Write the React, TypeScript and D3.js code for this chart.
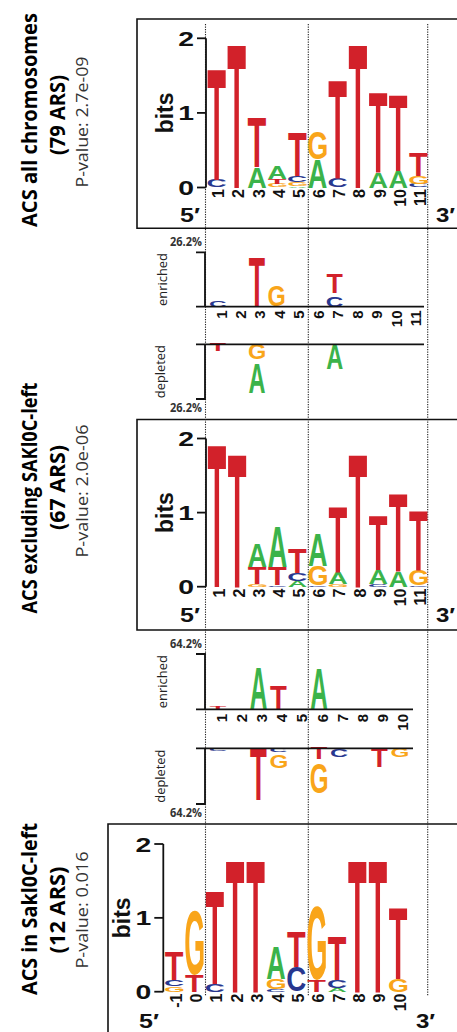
import React, { useMemo } from 'react';
import * as d3 from 'd3';

type Cell = [string, number];
type Column = Cell[];

const LETTER_COLORS: Record<string, string> = { A: '#3bb34a', C: '#28378f', G: '#f9a51a', T: '#d2212a' };

const positions11 = ['1', '2', '3', '4', '5', '6', '7', '8', '9', '10', '11'];
const positions10 = ['1', '2', '3', '4', '5', '6', '7', '8', '9', '10'];
const positionsSak = ['-1', '0', '1', '2', '3', '4', '5', '6', '7', '8', '9', '10'];

// Panel 1: ACS all chromosomes (bits)
const allChrStacks: Column[] = [
  [['C', 0.10], ['T', 1.50]],
  [['T', 1.93]],
  [['A', 0.27], ['T', 0.66]],
  [['G', 0.05], ['T', 0.07], ['A', 0.17]],
  [['A', 0.02], ['G', 0.05], ['C', 0.08], ['T', 0.59]],
  [['A', 0.38], ['G', 0.37]],
  [['C', 0.13], ['T', 1.33]],
  [['T', 1.93]],
  [['A', 0.21], ['T', 1.08]],
  [['A', 0.22], ['T', 1.02]],
  [['C', 0.05], ['G', 0.10], ['T', 0.32]],
];
const allChrTitle = ['ACS all chromosomes', '(79 ARS)', 'P-value: 2.7e-09'];

// Panel 2: enriched / depleted (percent)
const diffAMax = 26.2;
const diffAEnriched: Column[] = [
  [['C', 3.2]], [], [['T', 23.7]], [['G', 9.8]], [], [], [['C', 5.3], ['T', 9.1]], [], [], [], [],
];
const diffADepleted: Column[] = [
  [['T', 3.4]], [], [['G', 7.3], ['A', 14.4]], [], [], [], [['A', 12.0]], [], [], [], [],
];

// Panel 3: ACS excluding SAKl0C-left (bits)
const exclStacks: Column[] = [
  [['T', 1.93]],
  [['T', 1.81]],
  [['G', 0.04], ['T', 0.22], ['A', 0.32]],
  [['C', 0.02], ['T', 0.25], ['A', 0.54]],
  [['A', 0.08], ['C', 0.11], ['T', 0.33]],
  [['C', 0.02], ['G', 0.26], ['A', 0.44]],
  [['G', 0.03], ['A', 0.15], ['T', 0.89]],
  [['T', 1.81]],
  [['C', 0.03], ['A', 0.19], ['T', 0.73]],
  [['A', 0.21], ['T', 1.05]],
  [['C', 0.02], ['G', 0.21], ['T', 0.81]],
];
const exclTitle = ['ACS excluding SAKl0C-left', '(67 ARS)', 'P-value: 2.0e-06'];

// Panel 4: enriched / depleted (percent)
const diffBMax = 64.2;
const diffBEnriched: Column[] = [
  [['T', 3.0]], [], [['A', 48.7]], [['T', 27.0]], [], [['A', 46.4]], [], [], [], [],
];
const diffBDepleted: Column[] = [
  [['C', 3.5]], [], [['T', 59.6]], [['C', 3.8], ['G', 15.3]], [], [['T', 12.7], ['G', 35.4]],
  [['C', 9.6]], [], [['T', 22.0]], [['G', 10.4]],
];

// Panel 5: ACS in Sakl0C-left (bits)
const sakStacks: Column[] = [
  [['G', 0.07], ['C', 0.09], ['T', 0.38]],
  [['T', 0.23], ['G', 0.88]],
  [['C', 0.11], ['T', 1.27]],
  [['T', 1.79]],
  [['T', 1.79]],
  [['C', 0.03], ['G', 0.14], ['A', 0.44]],
  [['C', 0.34], ['T', 0.47]],
  [['T', 0.16], ['G', 0.99]],
  [['A', 0.05], ['C', 0.11], ['T', 0.59]],
  [['T', 1.79]],
  [['T', 1.79]],
  [['G', 0.17], ['T', 0.97]],
];
const sakTitle = ['ACS in Sakl0C-left', '(12 ARS)', 'P-value: 0.016'];

const bitTicks = [0, 1, 2];

const LOGO_FAMILY = "'Liberation Sans', Arial, sans-serif";
const TITLE_FAMILY = "'Open Sans', 'Liberation Sans', sans-serif";
const LABEL_FAMILY = "'Liberation Sans', Arial, sans-serif";

type Metric = { x: number; y: number; w: number; h: number };

function useGlyphMetrics(): Record<string, Metric> {
  return useMemo(() => {
    const out: Record<string, Metric> = {};
    let ctx: CanvasRenderingContext2D | null = null;
    try {
      const c = document.createElement('canvas');
      ctx = c.getContext('2d');
    } catch (e) {
      ctx = null;
    }
    for (const ch of ['A', 'C', 'G', 'T']) {
      let m: Metric = { x: 3, y: -72, w: 62, h: 73 };
      if (ctx) {
        ctx.font = `bold 100px ${LOGO_FAMILY}`;
        const t = ctx.measureText(ch);
        const w = t.actualBoundingBoxLeft + t.actualBoundingBoxRight;
        const h = t.actualBoundingBoxAscent + t.actualBoundingBoxDescent;
        if (w > 0 && h > 0) m = { x: -t.actualBoundingBoxLeft, y: -t.actualBoundingBoxAscent, w, h };
      }
      out[ch] = m;
    }
    return out;
  }, []);
}

function Glyph({ ch, x, y, w, h, metrics }: { ch: string; x: number; y: number; w: number; h: number; metrics: Record<string, Metric> }) {
  if (h < 0.6) return null;
  const m = metrics[ch];
  return (
    <text
      transform={`translate(${x},${y}) scale(${w / m.w},${h / m.h}) translate(${-m.x},${-m.y})`}
      fontFamily={LOGO_FAMILY}
      fontWeight="bold"
      fontSize={100}
      fill={LETTER_COLORS[ch]}
    >
      {ch}
    </text>
  );
}

function bandScale(positions: string[], c0: number, step: number, lw: number) {
  const p = 1 - lw / step;
  const r0 = c0 - step / 2;
  return d3
    .scaleBand<string>()
    .domain(positions)
    .range([r0, r0 + positions.length * step])
    .paddingInner(p)
    .paddingOuter(p / 2);
}

function RotText({ x, y, text, size, weight, anchor, fill, family, length }: any) {
  return (
    <text
      transform={`translate(${x},${y}) rotate(-90)`}
      textAnchor={anchor || 'middle'}
      fontSize={size}
      fontWeight={weight || 'normal'}
      fontFamily={family || LABEL_FAMILY}
      fill={fill || '#000'}
      textLength={length}
      lengthAdjust={length ? 'spacingAndGlyphs' : undefined}
    >
      {text}
    </text>
  );
}

function Titles({ lines, cy, lengths }: { lines: string[]; cy: number[]; lengths: number[] }) {
  return (
    <g>
      <RotText x={37} y={cy[0]} text={lines[0]} size={22} weight="bold" family={TITLE_FAMILY} length={lengths[0]} />
      <RotText x={65} y={cy[1]} text={lines[1]} size={21} weight="bold" family={TITLE_FAMILY} length={lengths[1]} />
      <RotText x={88} y={cy[2]} text={lines[2]} size={17} weight="normal" family={TITLE_FAMILY} fill="#333" length={lengths[2]} />
    </g>
  );
}

function BitsPanel(props: {
  positions: string[];
  stacks: Column[];
  axisX: number;
  y0: number;
  y2: number;
  c0: number;
  step: number;
  lw: number;
  labelTop: number;
  fiveX: number;
  threeX: number;
  primeY: number;
  metrics: Record<string, Metric>;
}) {
  const { positions, stacks, axisX, y0, y2, c0, step, lw, labelTop, fiveX, threeX, primeY, metrics } = props;
  const x = bandScale(positions, c0, step, lw);
  const y = d3.scaleLinear().domain([0, 2]).range([y0, y2]);
  const bw = x.bandwidth();
  return (
    <g>
      {stacks.map((col, i) => {
        let acc = 0;
        return col.map(([ch, v], j) => {
          const yb = y(acc);
          acc += v;
          const yt = y(acc);
          return <Glyph key={`${i}-${j}`} ch={ch} x={x(positions[i])!} y={yt} w={bw} h={yb - yt} metrics={metrics} />;
        });
      })}
      <line x1={axisX} x2={axisX} y1={y(0)} y2={y(2)} stroke="#111" strokeWidth={1.8} />
      {bitTicks.map((t) => (
        <g key={t}>
          <line x1={axisX - 9} x2={axisX} y1={y(t)} y2={y(t)} stroke="#111" strokeWidth={1.8} />
          <text
            transform={`translate(${axisX - 12},${y(t)}) scale(1.35,1)`}
            textAnchor="end"
            dy="0.36em"
            fontFamily={LABEL_FAMILY}
            fontWeight="bold"
            fontSize={21}
            fill="#111"
          >
            {t}
          </text>
        </g>
      ))}
      <RotText x={axisX - 33} y={y(1)} text="bits" size={23} weight="bold" fill="#111" />
      {positions.map((p) => (
        <RotText
          key={p}
          x={x(p)! + bw / 2 + 7.5}
          y={labelTop}
          text={p}
          size={16}
          weight="bold"
          anchor="end"
          fill="#111"
        />
      ))}
      <text
        transform={`translate(${fiveX},${primeY}) scale(1.25,1)`}
        textAnchor="end"
        fontFamily={LABEL_FAMILY}
        fontWeight="bold"
        fontSize={20}
        fill="#111"
      >
        5′
      </text>
      <text
        transform={`translate(${threeX},${primeY}) scale(1.2,1)`}
        fontFamily={LABEL_FAMILY}
        fontWeight="bold"
        fontSize={20}
        fill="#111"
      >
        3′
      </text>
    </g>
  );
}

function DiffPanel(props: {
  positions: string[];
  enriched: Column[];
  depleted: Column[];
  max: number;
  c0: number;
  step: number;
  lw: number;
  axisX: number;
  eTop: number;
  eBase: number;
  dBase: number;
  dBottom: number;
  lineEnd: number;
  labelTop: number;
  metrics: Record<string, Metric>;
}) {
  const { positions, enriched, depleted, max, c0, step, lw, axisX, eTop, eBase, dBase, dBottom, lineEnd, labelTop, metrics } = props;
  const x = bandScale(positions, c0, step, lw);
  const bw = x.bandwidth();
  const yE = d3.scaleLinear().domain([0, max]).range([eBase, eTop]);
  const yD = d3.scaleLinear().domain([0, max]).range([dBase, dBottom]);
  const gap = 3;
  const pct = `${max.toFixed(1)}%`;
  return (
    <g>
      {enriched.map((col, i) => {
        let acc = 0;
        return col.map(([ch, v], j) => {
          const off = j * gap;
          const yb = yE(acc) - off;
          acc += v;
          const yt = yE(acc) - off;
          return <Glyph key={`e${i}-${j}`} ch={ch} x={x(positions[i])!} y={yt} w={bw} h={yb - yt} metrics={metrics} />;
        });
      })}
      {depleted.map((col, i) => {
        let acc = 0;
        return col.map(([ch, v], j) => {
          const off = j * gap;
          const yt = yD(acc) + off;
          acc += v;
          const yb = yD(acc) + off;
          return <Glyph key={`d${i}-${j}`} ch={ch} x={x(positions[i])!} y={yt} w={bw} h={yb - yt} metrics={metrics} />;
        });
      })}
      <path
        d={`M${axisX - 9},${eTop}H${axisX}V${eBase}H${axisX - 9}M${axisX},${eBase}H${lineEnd}`}
        fill="none"
        stroke="#111"
        strokeWidth={1.8}
      />
      <path
        d={`M${axisX - 9},${dBottom}H${axisX}V${dBase}H${axisX - 9}M${axisX},${dBase}H${lineEnd}`}
        fill="none"
        stroke="#111"
        strokeWidth={1.8}
      />
      <text x={axisX - 3} y={eTop - 6} textAnchor="end" fontFamily={TITLE_FAMILY} fontWeight="bold" fontSize={11.5} fill="#333" textLength={32} lengthAdjust="spacingAndGlyphs">
        {pct}
      </text>
      <text x={axisX - 3} y={dBottom + 13} textAnchor="end" fontFamily={TITLE_FAMILY} fontWeight="bold" fontSize={11.5} fill="#333" textLength={32} lengthAdjust="spacingAndGlyphs">
        {pct}
      </text>
      <RotText x={166.5} y={(eTop + eBase) / 2} text="enriched" size={13} fill="#222" family={TITLE_FAMILY} length={53} />
      <RotText x={165} y={(dBase + dBottom) / 2} text="depleted" size={13} fill="#222" family={TITLE_FAMILY} length={53} />
      {positions.map((p) => (
        <RotText key={p} x={x(p)! + bw / 2 + 8.5} y={labelTop} text={p} size={15} weight="bold" anchor="end" fill="#111" />
      ))}
    </g>
  );
}

export default function App() {
  const metrics = useGlyphMetrics();
  const dottedX = [205.5, 308.3, 427.7];
  return (
    <svg
      width={457}
      height={1032}
      style={{ position: 'absolute', left: 0, top: 0, display: 'block', background: '#fff' }}
    >
      <rect x={0} y={0} width={457} height={1032} fill="#fff" />
      {/* boxes */}
      <path d="M470,19H137V228.3H470" fill="none" stroke="#111" strokeWidth={1.6} />
      <path d="M470,419.5H137V630H470" fill="none" stroke="#111" strokeWidth={1.6} />
      <path d="M470,824H108V1040" fill="none" stroke="#111" strokeWidth={1.6} />
      {/* dotted separators */}
      {dottedX.map((dx) => (
        <line key={dx} x1={dx} x2={dx} y1={24} y2={996} stroke="#222" strokeWidth={1.1} strokeDasharray="1.2 1.3" />
      ))}

      <Titles lines={allChrTitle} cy={[120, 115, 122]} lengths={[214, 80, 131]} />
      <BitsPanel
        positions={positions11}
        stacks={allChrStacks}
        axisX={206}
        y0={187.5}
        y2={38.3}
        c0={216.7}
        step={20.18}
        lw={18.4}
        labelTop={189}
        fiveX={200}
        threeX={436}
        primeY={222}
        metrics={metrics}
      />

      <DiffPanel
        positions={positions11}
        enriched={diffAEnriched}
        depleted={diffADepleted}
        max={diffAMax}
        c0={218}
        step={19.45}
        lw={16}
        axisX={205}
        eTop={252.3}
        eBase={306.7}
        dBase={344.3}
        dBottom={399}
        lineEnd={424}
        labelTop={310.5}
        metrics={metrics}
      />

      <Titles lines={exclTitle} cy={[498, 487.5, 491]} lengths={[231, 85, 133]} />
      <BitsPanel
        positions={positions11}
        stacks={exclStacks}
        axisX={206}
        y0={586.7}
        y2={438.5}
        c0={217}
        step={20.15}
        lw={18.4}
        labelTop={588.5}
        fiveX={200}
        threeX={436}
        primeY={622}
        metrics={metrics}
      />

      <DiffPanel
        positions={positions10}
        enriched={diffBEnriched}
        depleted={diffBDepleted}
        max={diffBMax}
        c0={218}
        step={20.2}
        lw={16.5}
        axisX={205}
        eTop={654}
        eBase={709.3}
        dBase={748.3}
        dBottom={804}
        lineEnd={413}
        labelTop={714}
        metrics={metrics}
      />

      <Titles lines={sakTitle} cy={[909, 910, 910]} lengths={[172, 87, 117]} />
      <BitsPanel
        positions={positionsSak}
        stacks={sakStacks}
        axisX={163.3}
        y0={991.7}
        y2={844}
        c0={174.2}
        step={20.37}
        lw={18.3}
        labelTop={993.5}
        fiveX={159}
        threeX={416}
        primeY={1028}
        metrics={metrics}
      />
    </svg>
  );
}
